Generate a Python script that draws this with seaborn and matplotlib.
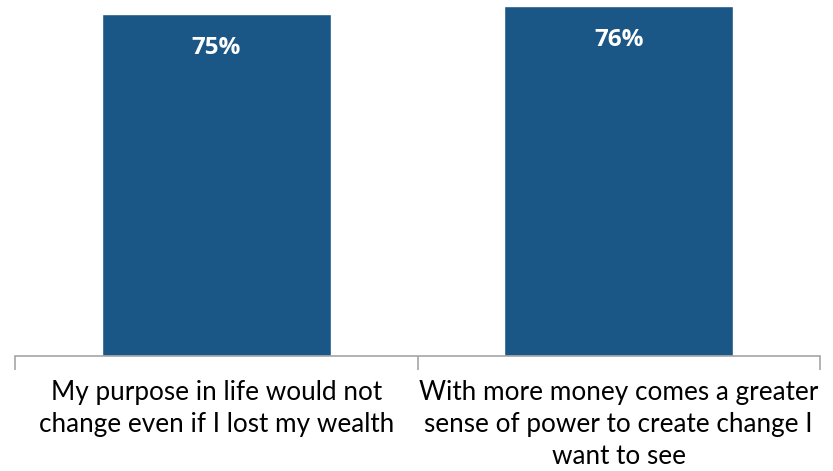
import matplotlib
matplotlib.use("Agg")
import matplotlib.pyplot as plt
import seaborn as sns
import pandas as pd

categories = ["My purpose in life would not\nchange even if I lost my wealth",
              "With more money comes a greater\nsense of power to create change I\nwant to see"]
values = [74.6, 76.4]

sns.set_theme(style="white")
plt.rcParams['font.family'] = ['Lato', 'DejaVu Sans']

df = pd.DataFrame({"cat": categories, "val": values})

fig = plt.figure(figsize=(8.33, 4.71), dpi=100)
ax = fig.add_axes([15/833, 1 - 356/471, 805/833, 356/471])
sns.barplot(data=df, x="cat", y="val", color="#1A5686", width=0.57, saturation=1, ax=ax)
ax.set_xlim(-0.5, 1.5)
ax.set_ylim(0, 77.66)
ax.set_xlabel("")
ax.set_ylabel("")
ax.set_yticks([])
for s in ["left", "right", "top"]:
    ax.spines[s].set_visible(False)
ax.spines["bottom"].set_color("#A6A6A6")
ax.spines["bottom"].set_linewidth(1.2)
ax.tick_params(axis="x", which="major", bottom=False, length=0, pad=17, labelsize=18.8, labelcolor="#000000")
ax.set_xticks([-0.5, 0.5, 1.5], minor=True)
ax.tick_params(axis="x", which="minor", bottom=True, length=10, width=1.2, color="#A6A6A6", direction="out")
for t in ax.get_xticklabels():
    t.set_linespacing(1.36)
for i, v in enumerate(values):
    ax.text(i, v - 7.4, f"{round(v)}%", ha="center", va="center", color="white",
            fontsize=17.5, fontweight="bold", family=["Open Sans", "DejaVu Sans"])
fig.savefig("out.png", dpi=100)
